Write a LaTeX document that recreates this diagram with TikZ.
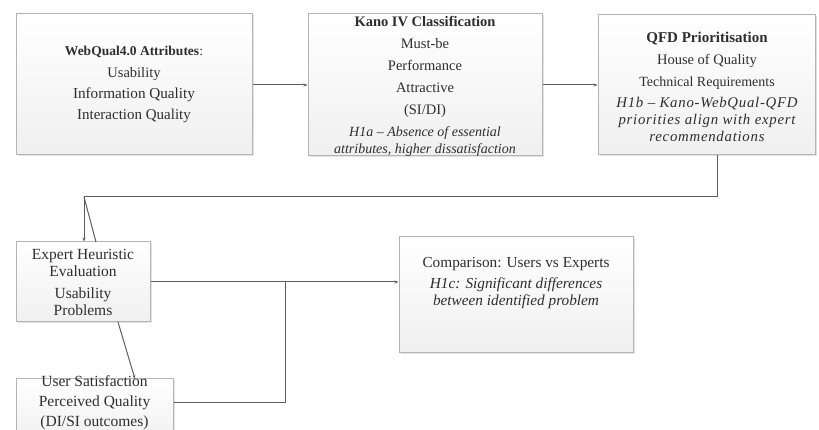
\documentclass[tikz,border=0pt]{standalone}
\usepackage{fontspec}
\setmainfont{Liberation Serif}
\usetikzlibrary{arrows.meta,shadows}
\definecolor{txt}{HTML}{2E2E2E}
\definecolor{ln}{HTML}{5E5E5E}
\definecolor{bd}{HTML}{B4B4B4}
\newcommand{\fsz}[1]{\fontsize{#1}{17}\selectfont}
\newcommand{\wideit}{\fontsize{14.8}{17}\selectfont\itshape\addfontfeature{LetterSpace=5}}
\tikzset{
  boxx/.style={draw=bd, line width=1pt, top color=white, bottom color=black!6,
    drop shadow={shadow xshift=1.5pt, shadow yshift=-1.5pt, fill=black!18, opacity=0.6},
    rectangle, inner sep=0pt},
  tx/.style={text=txt, align=center, font=\fontsize{14.5}{17}\selectfont, inner sep=0pt},
  conn/.style={draw=ln, line width=1pt},
  arr/.style={conn, -{Stealth[length=4pt,width=3pt]}}
}
\begin{document}
\begin{tikzpicture}[x=1pt,y=1pt]
\useasboundingbox (0,0) rectangle (819,430);
% boxes (y = 430 - image y)
\node[boxx, minimum width=236, minimum height=141] (web) at (134,345.5) {};
\node[tx] (webt) at (134,346) {{\fsz{13.5}\textbf{WebQual4.0 Attributes}:}\\[5pt]Usability\\[4pt]{\fsz{15.2}Information Quality}\\[4pt]{\fsz{15}Interaction Quality}};
\node[boxx, minimum width=234, minimum height=142] (kano) at (425,345) {};
\node[tx] (kanot) at (425,344) {\textbf{Kano IV Classification}\\[5pt]Must-be\\[5pt]Performance\\[5pt]Attractive\\[5pt](SI/DI)\\[5pt]{\fsz{14}\itshape H1a -- Absence of essential}\\{\fsz{14}\itshape attributes, higher dissatisfaction}};
\node[boxx, minimum width=217, minimum height=140] (qfd) at (706.5,345) {};
\node[tx] (qfdt) at (707,343) {{\fsz{15}\textbf{QFD Prioritisation}}\\[5pt]House of Quality\\[5pt]{\fsz{14}Technical Requirements}\\[4pt]{\wideit H1b -- Kano-WebQual-QFD}\\{\wideit priorities align with expert}\\{\wideit recommendations}};
\node[boxx, minimum width=134, minimum height=80] (expert) at (83,148) {};
\node[tx, font=\fontsize{15.5}{17}\selectfont] (expertt) at (83,148) {Expert Heuristic\\Evaluation\\[5pt]Usability\\Problems};
\node[boxx, minimum width=157, minimum height=64] (user) at (94.5,19) {};
\node[tx, font=\fontsize{15.5}{18}\selectfont] (usert) at (94.5,27) {User Satisfaction\\[2pt]Perceived Quality\\[2pt](DI/SI outcomes)};
\node[boxx, minimum width=234, minimum height=116] (comp) at (516,135) {};
\node[tx, font=\fontsize{15.3}{17}\selectfont] (compt) at (516,147) {Comparison: Users vs Experts\\[4pt]\textit{H1c: Significant differences}\\\textit{between identified problem}};
% connectors
\draw[arr] (web.east |- 0,345) -- (kano.west |- 0,345);
\draw[arr] (kano.east |- 0,345) -- (qfd.west |- 0,345);
\coordinate (qd) at (717,233);
\coordinate (cl) at (84,233);
\draw[conn] (qfd.south -| qd) -- (qd) -- (cl);
\draw[arr] (cl) -- (cl |- expert.north);
\draw[conn] (cl) -- (96,188);
\draw[arr] (118,108) -- (135,51);
\draw[arr] (expert.east |- 0,148) -- (comp.west |- 0,148);
\coordinate (jn) at (285,27);
\draw[conn] (user.east |- jn) -- (jn) -- (285,148);
\end{tikzpicture}
\end{document}
